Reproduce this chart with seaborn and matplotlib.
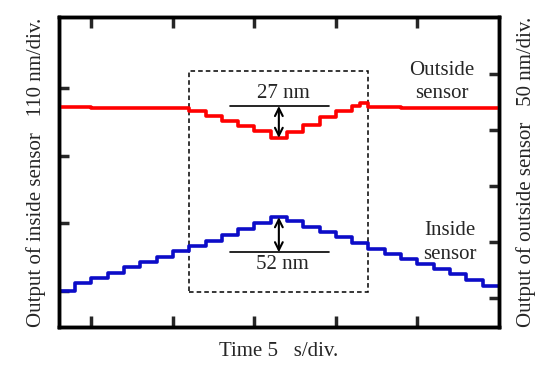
"""
Inside / outside sensor output vs time
"""
import matplotlib
matplotlib.use("Agg")
import matplotlib.pyplot as plt
import matplotlib.patches as patches
import seaborn as sns

sns.set_style("ticks")
plt.rcParams["font.family"] = ["Liberation Serif", "DejaVu Serif"]
plt.rcParams["font.size"] = 15

# ========== data (time in s, 5 s/div) ==========
time_inside = [3, 4, 5, 6, 7, 8, 9, 10, 11, 12, 13, 14, 15, 16,
               17, 18, 19, 20, 21, 22, 23, 24, 25, 26, 27, 28, 29, 30]
inside_nm = [0, 13, 21, 29, 39, 47, 55, 65, 73, 81, 91, 101, 110, 120,
             114, 104, 96, 88, 78, 68, 60, 52, 44, 36, 28, 18, 8, 8]

time_outside = [3, 5, 7, 9, 11, 12, 13, 14, 15, 16, 17, 18, 19, 20,
                21, 21.5, 22, 24, 26, 28, 30]
outside_nm = [170.5, 170, 169.5, 170, 167, 162.5, 158, 153.5, 149, 143,
              148, 154.5, 161.5, 167, 171.5, 174, 170.5, 170, 169.5, 170, 170]

x_ticks = [5, 10, 15, 20, 25]
inside_ticks = [0, 110, 220, 330]      # 110 nm/div
outside_ticks = [0, 50, 100, 150, 200]  # 50 nm/div

# ========== figure ==========
fig = plt.figure(figsize=(5.5, 3.68), dpi=100)
ax = fig.add_axes([0.107, 0.111, 0.800, 0.843])
ax2 = ax.twinx()

sns.lineplot(x=time_inside, y=inside_nm, ax=ax, color="#0c0cc8", lw=2.6,
             drawstyle="steps-post")
sns.lineplot(x=time_outside, y=outside_nm, ax=ax2, color="#ff0000", lw=2.6,
             drawstyle="steps-post")

ax.set_xlim(3, 30)
ax.set_ylim(-58.5, 445)
ax2.set_ylim(-26, 251)

ax.set_xticks(x_ticks)
ax.set_yticks(inside_ticks)
ax2.set_yticks(outside_ticks)
ax.set_xticklabels([])
ax.set_yticklabels([])
ax2.set_yticklabels([])
ax.tick_params(axis="x", direction="in", top=True, bottom=True, length=8, width=2.5)
ax.tick_params(axis="y", direction="in", left=True, right=False, length=7, width=2.5)
ax2.tick_params(axis="y", direction="in", right=True, left=False, length=7, width=2.5)
for a in (ax, ax2):
    for s in a.spines.values():
        s.set_linewidth(2.5)
        s.set_color("black")

ax.set_xlabel("Time 5   s/div.", labelpad=7)
ax.set_ylabel("Output of inside sensor   110 nm/div.", labelpad=6)
ax2.set_ylabel("Output of outside sensor   50 nm/div.", labelpad=9)

# dashed box round the event
box = patches.Rectangle((11, -2), 11, 359.5, fill=False, ec="black",
                        lw=1.1, ls=(0, (3, 2)), zorder=1)
ax.add_patch(box)

arrow_kw = dict(arrowstyle="<->", color="black", lw=1.5, mutation_scale=14,
                shrinkA=0, shrinkB=0)

# 27 nm (outside sensor)
ax2.plot([13.5, 19.6], [171.5, 171.5], color="black", lw=1.2)
ax2.annotate("", xy=(16.5, 143), xytext=(16.5, 171.5), arrowprops=arrow_kw)
ax2.text(16.8, 174, "27 nm", ha="center", va="bottom")
ax2.text(26.5, 193, "Outside\nsensor", ha="center", va="center", linespacing=1.3)

# 52 nm (inside sensor)
ax.plot([13.5, 19.6], [63, 63], color="black", lw=1.2)
ax.annotate("", xy=(16.5, 120), xytext=(16.5, 63), arrowprops=arrow_kw)
ax.text(16.7, 58, "52 nm", ha="center", va="top")
ax.text(27.0, 79, "Inside\nsensor", ha="center", va="center", linespacing=1.3)

plt.savefig("out.png", dpi=100)
plt.close()
